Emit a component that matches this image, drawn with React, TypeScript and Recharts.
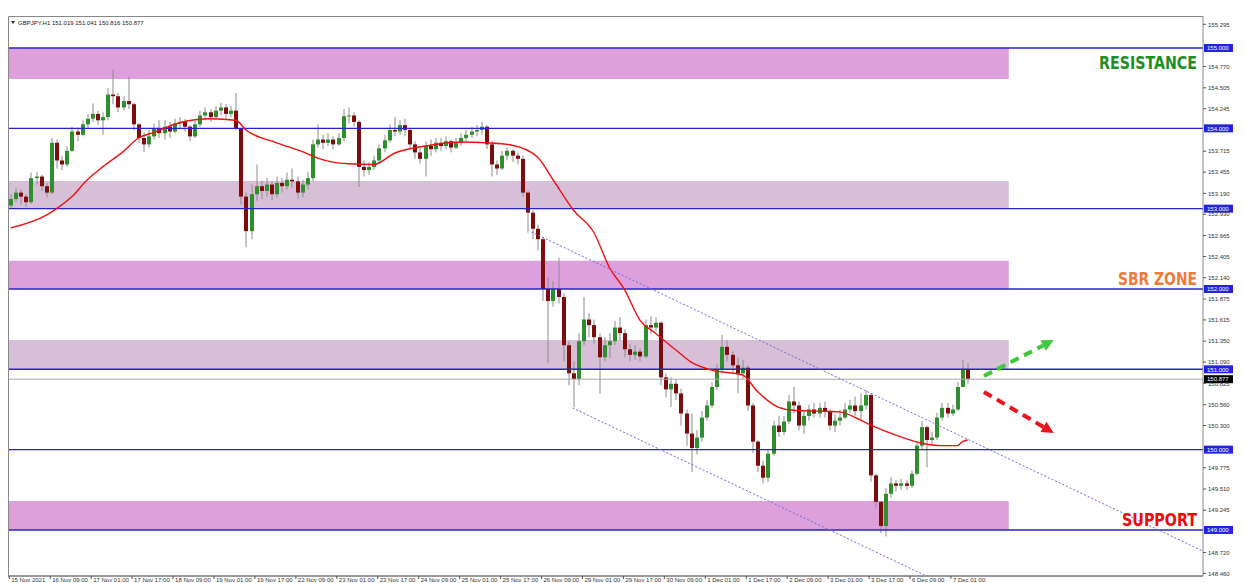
import { Bar, ComposedChart, Line, ReferenceArea, ReferenceLine, XAxis, YAxis } from "recharts";

// GBPJPY H1, drawn as 2-hour candles; open = previous close
const firstOpen = 153.04;
const closes = [
  153.12, 153.2, 153.15, 153.08, 153.38, 153.4, 153.28, 153.2, 153.82, 153.6,
  153.55, 153.72, 153.96, 153.92, 154.05, 154.12, 154.18, 154.1, 154.14, 154.42,
  154.4, 154.26, 154.34, 154.3, 154.05, 153.88, 153.8, 153.9, 154.0, 153.94,
  154.02, 153.96, 154.06, 154.08, 154.02, 153.9, 154.05, 154.16, 154.2, 154.14,
  154.22, 154.26, 154.18, 154.22, 154.0, 153.15, 152.72, 153.18, 153.28, 153.22,
  153.3, 153.18, 153.32, 153.28, 153.36, 153.34, 153.2, 153.3, 153.38, 153.8,
  153.86, 153.82, 153.86, 153.8, 153.88, 154.15, 154.16, 154.08, 153.52, 153.48,
  153.52, 153.6, 153.75, 153.85, 153.98, 153.96, 154.04, 153.98, 153.8, 153.7,
  153.62, 153.78, 153.74, 153.82, 153.78, 153.84, 153.76, 153.82, 153.88, 153.92,
  153.96, 153.98, 154.02, 153.8, 153.55, 153.5, 153.66, 153.72, 153.66, 153.62,
  153.2, 152.95, 152.75, 152.62, 152.0, 151.85, 152.0, 151.9, 151.3, 150.95,
  150.88, 151.35, 151.62, 151.55, 151.4, 151.15, 151.3, 151.35, 151.52, 151.45,
  151.25, 151.18, 151.22, 151.16, 151.55, 151.52, 151.58, 150.9, 150.75, 150.82,
  150.7, 150.45, 150.2, 150.02, 150.15, 150.4, 150.55, 150.78, 151.0, 151.28,
  151.18, 151.05, 150.95, 151.02, 150.55, 150.1, 149.8, 149.65, 149.95, 150.3,
  150.22, 150.35, 150.6, 150.55, 150.3, 150.42, 150.5, 150.45, 150.52, 150.48,
  150.3, 150.36, 150.4, 150.5, 150.55, 150.48, 150.55, 150.68, 149.68, 149.35,
  149.05, 149.45, 149.58, 149.55, 149.58, 149.55, 149.7, 150.05, 150.28, 150.12,
  150.15, 150.4, 150.52, 150.45, 150.5, 150.78, 151.0, 150.88,
];
const highs = [
  153.18, 153.26, 153.24, 153.18, 153.45, 153.46, 153.42, 153.32, 153.88, 153.86,
  153.66, 153.78, 154.02, 154.01, 154.1, 154.18, 154.31, 154.22, 154.2, 154.5,
  154.73, 154.44, 154.4, 154.64, 154.32, 154.06, 153.95, 153.98, 154.06, 154.1,
  154.1, 154.08, 154.12, 154.14, 154.12, 154.04, 154.1, 154.22, 154.26, 154.24,
  154.28, 154.32, 154.3, 154.28, 154.44, 154.0, 153.2, 153.3, 153.55, 153.35,
  153.38, 153.34, 153.4, 153.38, 153.45, 153.5, 153.4, 153.36, 153.46, 153.86,
  154.05, 153.92, 153.94, 153.9, 153.94, 154.24, 154.26, 154.2, 154.1, 153.6,
  153.58, 153.66, 153.8, 153.92, 154.05, 154.14, 154.1, 154.12, 154.0, 153.84,
  153.78, 153.84, 153.86, 153.88, 153.88, 153.9, 153.86, 153.88, 153.94, 153.98,
  154.02, 154.04, 154.08, 154.04, 153.84, 153.6, 153.72, 153.76, 153.74, 153.7,
  153.66, 153.22, 152.98, 152.8, 152.65, 152.15, 152.1, 152.39, 151.95, 151.35,
  151.1, 151.45, 151.9, 151.7, 151.62, 151.45, 151.4, 151.45, 151.6, 151.65,
  151.5, 151.32, 151.3, 151.26, 151.62, 151.66, 151.65, 151.6, 150.95, 150.9,
  150.88, 150.76, 150.5, 150.45, 150.24, 150.48, 150.62, 150.84, 151.06, 151.43,
  151.36, 151.22, 151.15, 151.12, 151.05, 150.58, 150.12, 149.86, 150.0, 150.36,
  150.42, 150.42, 150.68, 150.78, 150.6, 150.5, 150.56, 150.58, 150.58, 150.6,
  150.5, 150.44, 150.5, 150.58, 150.62, 150.66, 150.7, 150.74, 150.7, 149.7,
  149.36, 149.52, 149.66, 149.62, 149.64, 149.62, 149.74, 150.1, 150.36, 150.3,
  150.22, 150.46, 150.58, 150.58, 150.56, 150.84, 151.12, 151.08,
];
const lows = [
  153.0, 153.08, 153.05, 153.02, 153.06, 153.3, 153.22, 153.14, 153.18, 153.5,
  153.48, 153.52, 153.7, 153.84, 153.9, 154.0, 154.08, 154.04, 153.92, 154.1,
  154.3, 154.2, 154.22, 154.24, 153.98, 153.82, 153.7, 153.76, 153.86, 153.88,
  153.86, 153.88, 153.94, 154.0, 153.96, 153.84, 153.88, 154.02, 154.1, 154.08,
  154.12, 154.16, 154.12, 154.14, 153.98, 153.05, 152.52, 152.62, 153.1, 153.12,
  153.15, 153.1, 153.14, 153.2, 153.24, 153.26, 153.12, 153.14, 153.24, 153.34,
  153.76, 153.74, 153.78, 153.74, 153.78, 153.84, 154.06, 154.02, 153.27, 153.4,
  153.42, 153.48, 153.56, 153.7, 153.82, 153.9, 153.92, 153.9, 153.74, 153.62,
  153.56, 153.4, 153.66, 153.7, 153.72, 153.74, 153.7, 153.74, 153.78, 153.84,
  153.88, 153.9, 153.92, 153.74, 153.4, 153.42, 153.48, 153.6, 153.58, 153.55,
  153.15, 152.7, 152.62, 152.48, 151.85, 151.08, 151.78, 151.82, 151.1, 150.8,
  150.53, 150.8, 151.3, 151.4, 151.32, 150.7, 151.1, 151.14, 151.3, 151.36,
  151.15, 151.1, 151.12, 151.1, 151.14, 151.44, 151.48, 150.8, 150.65, 150.53,
  150.62, 150.3, 150.05, 149.72, 149.94, 150.1, 150.36, 150.52, 150.74, 150.98,
  151.1, 150.96, 150.7, 150.88, 150.48, 149.96, 149.72, 149.58, 149.6, 149.92,
  150.16, 150.18, 150.32, 150.45, 150.24, 150.2, 150.36, 150.4, 150.4, 150.4,
  150.24, 150.22, 150.3, 150.38, 150.46, 150.42, 150.36, 150.5, 149.6, 149.28,
  148.96, 148.92, 149.4, 149.48, 149.5, 149.5, 149.52, 149.68, 150.0, 149.78,
  150.05, 150.12, 150.36, 150.4, 150.42, 150.48, 150.78, 150.82,
];

// moving average read at a few candles, the line joins them
const maIndex = [0, 7, 9, 12, 15, 18, 22, 25, 28, 33, 39, 44, 46, 52, 57, 60, 63, 66, 71, 75, 82, 88, 93, 98, 103, 106, 110, 114, 117, 120, 123, 126, 130, 133, 137, 143, 146, 150, 153, 158, 162, 166, 169, 173, 178, 182, 185, 186, 187];
const maValues = [152.76, 152.92, 153.0, 153.15, 153.36, 153.52, 153.71, 153.88, 153.95, 154.07, 154.12, 154.1, 153.98, 153.82, 153.71, 153.63, 153.58, 153.56, 153.55, 153.69, 153.79, 153.83, 153.82, 153.79, 153.64, 153.36, 152.98, 152.7, 152.27, 151.99, 151.61, 151.45, 151.24, 151.09, 150.99, 150.93, 150.72, 150.53, 150.49, 150.48, 150.47, 150.37, 150.28, 150.18, 150.08, 150.05, 150.05, 150.1, 150.12];

const timeLabels = [
  "15 Nov 2021", "16 Nov 09:00", "17 Nov 01:00", "17 Nov 17:00", "18 Nov 09:00", "19 Nov 01:00",
  "19 Nov 17:00", "22 Nov 09:00", "23 Nov 01:00", "23 Nov 17:00", "24 Nov 09:00", "25 Nov 01:00",
  "25 Nov 17:00", "26 Nov 09:00", "29 Nov 01:00", "29 Nov 17:00", "30 Nov 09:00", "1 Dec 01:00",
  "1 Dec 17:00", "2 Dec 09:00", "3 Dec 01:00", "3 Dec 17:00", "6 Dec 09:00", "7 Dec 01:00",
];
const priceTicks = [
  155.295, 154.77, 154.505, 154.245, 153.715, 153.455, 153.19, 152.93, 152.665, 152.405, 152.14,
  151.875, 151.615, 151.35, 151.09, 150.825, 150.56, 150.3, 149.775, 149.51, 149.245, 148.72, 148.46,
];
const levels = [155, 154, 153, 152, 151, 150, 149];
const lastPrice = 150.877;
const zoneHigh = [155, 153.344, 152.35, 151.365, 149.36];
const zoneLow = [154.614, 153.0, 152.0, 151.0, 149.0];
const zoneEnd = 390.6;
const channelUpper = [[204, 152.71], [466.3, 148.74]];
const channelLower = [[220.1, 150.52], [358.2, 148.43]];
const arrowUp = [[380.9, 150.917], [408.2, 151.365]];
const arrowDown = [[380.9, 150.718], [408.2, 150.207]];
const header = "GBPJPY,H1  151.019 151.041 150.816 150.877";

const rows = closes.map((c, k) => ({
  h: 2 * k + 0.5,
  open: k ? closes[k - 1] : firstOpen,
  close: c,
  high: highs[k],
  low: lows[k],
  range: [lows[k], highs[k]],
  ma: null as number | null,
}));
maIndex.forEach((k, i) => {
  rows[k].ma = maValues[i];
});

const fmt = (v: number) => v.toFixed(3);

function Candle(props: any) {
  const { x, y, width, height, payload } = props;
  const { open, close, high, low } = payload;
  const top = Math.min(y, y + height);
  const span = Math.abs(height);
  const py = (v: number) => (high === low ? top : top + ((high - v) / (high - low)) * span);
  const left = Math.round(x + width / 2) - 2;
  const b1 = py(Math.max(open, close));
  const b2 = py(Math.min(open, close));
  const up = close >= open;
  return (
    <g>
      <line x1={left + 2} x2={left + 2} y1={top} y2={top + span} stroke="#8c8c8c" strokeWidth={1} />
      <rect x={left} y={b1} width={4} height={Math.max(1, b2 - b1)} fill={up ? "#2f8f2f" : "#7d0d0d"} />
    </g>
  );
}

function PriceTick(props: any) {
  const { payload } = props;
  const y = payload.coordinate;
  return (
    <g>
      <line x1={1203} x2={1206} y1={y} y2={y} stroke="#555" />
      <text x={1208} y={y + 2.2} fontSize={6} fontFamily="Liberation Sans" fill="#333">
        {fmt(payload.value)}
      </text>
    </g>
  );
}

function TimeTick(props: any) {
  const { payload } = props;
  const x = payload.coordinate;
  const label = timeLabels[Math.round(payload.value / 16)];
  return (
    <g>
      <line x1={x} x2={x} y1={576} y2={579} stroke="#555" />
      <text x={x + 2} y={582} fontSize={6} fontFamily="Liberation Sans" fill="#333">
        {label}
      </text>
    </g>
  );
}

function levelLabel(bg: string, value: number) {
  return (p: any) => {
    const y = p.viewBox.y;
    return (
      <g>
        <rect x={1204} y={y - 4} width={29} height={8} fill={bg} />
        <text x={1207} y={y + 2.2} fontSize={6} fontFamily="Liberation Sans" fill="#fff">
          {fmt(value)}
        </text>
      </g>
    );
  };
}

function arrowShape(color: string) {
  return (p: any) => {
    const { x1, y1, x2, y2 } = p;
    const a = Math.atan2(y2 - y1, x2 - x1);
    const hl = 12;
    const hw = 6;
    const bx = x2 - hl * Math.cos(a);
    const by = y2 - hl * Math.sin(a);
    const pts = `${x2},${y2} ${bx + hw * Math.sin(a)},${by - hw * Math.cos(a)} ${bx - hw * Math.sin(a)},${by + hw * Math.cos(a)}`;
    return (
      <g>
        <line x1={x1} y1={y1} x2={bx} y2={by} stroke={color} strokeWidth={4} strokeDasharray="9 6" />
        <polygon points={pts} fill={color} />
      </g>
    );
  };
}

const seg = (s: number[][]) => s.map(([x, y]) => ({ x, y }));

export default function App() {
  return (
    <div style={{ position: "absolute", left: 0, top: 0, width: 1244, height: 583, background: "#fff" }}>
      <ComposedChart width={1244} height={583} data={rows} margin={{ top: 17, right: 0, bottom: 0, left: 8 }}>
        <XAxis
          dataKey="h"
          type="number"
          domain={[-0.5, 466.5]}
          allowDataOverflow
          ticks={timeLabels.map((_, i) => i * 16)}
          interval={0}
          height={7}
          tickLine={false}
          axisLine={{ stroke: "#999", strokeWidth: 2 }}
          tick={<TimeTick />}
        />
        <YAxis
          orientation="right"
          type="number"
          domain={[148.427, 155.386]}
          allowDataOverflow
          ticks={priceTicks}
          interval={0}
          width={41}
          tickLine={false}
          axisLine={{ stroke: "#888" }}
          tick={<PriceTick />}
        />
        {zoneHigh.map((hi, i) => (
          <ReferenceArea
            key={"z" + i}
            x1={-0.5}
            x2={zoneEnd}
            y1={zoneLow[i]}
            y2={hi}
            fill={i % 2 === 0 ? "#dda0dd" : "#d8bfd8"}
            fillOpacity={1}
            stroke="none"
          />
        ))}
        <ReferenceLine y={lastPrice} stroke="#a8a8a8" strokeWidth={1} label={levelLabel("#000", lastPrice)} />
        {levels.map((v) => (
          <ReferenceLine key={"l" + v} y={v} stroke="#2424cc" strokeWidth={1.4} label={levelLabel("#2424dd", v)} />
        ))}
        <Bar dataKey="range" barSize={4} shape={<Candle />} isAnimationActive={false} />
        <Line
          dataKey="ma"
          type="monotone"
          stroke="#ee1111"
          strokeWidth={1.4}
          dot={false}
          connectNulls
          isAnimationActive={false}
        />
        <ReferenceLine segment={seg(channelUpper)} stroke="#6a6ad8" strokeDasharray="2 2" ifOverflow="visible" />
        <ReferenceLine segment={seg(channelLower)} stroke="#6a6ad8" strokeDasharray="2 2" ifOverflow="visible" />
        <ReferenceLine segment={seg(arrowUp)} ifOverflow="visible" shape={arrowShape("#3fc83f")} />
        <ReferenceLine segment={seg(arrowDown)} ifOverflow="visible" shape={arrowShape("#e8141e")} />
      </ComposedChart>
      <svg width={1244} height={583} style={{ position: "absolute", left: 0, top: 0, pointerEvents: "none" }}>
        <line x1={8.5} x2={8.5} y1={16.5} y2={576} stroke="#888" />
        <line x1={8.5} x2={1203.5} y1={16.5} y2={16.5} stroke="#888" />
        <polygon points="11,21 15,21 13,24" fill="#222" />
        <text x={18} y={24.5} fontSize={6} fontFamily="Liberation Sans" fill="#222">
          {header}
        </text>
        <text x={1099} y={69} fontSize={17} fontWeight="bold" fontFamily="DejaVu Sans Condensed" fill="#1e8f1e" textLength={98} lengthAdjust="spacingAndGlyphs">
          RESISTANCE
        </text>
        <text x={1118} y={285} fontSize={17} fontWeight="bold" fontFamily="DejaVu Sans Condensed" fill="#f07a3a" textLength={79} lengthAdjust="spacingAndGlyphs">
          SBR ZONE
        </text>
        <text x={1122} y={526} fontSize={17} fontWeight="bold" fontFamily="DejaVu Sans Condensed" fill="#ee0a0a" textLength={75} lengthAdjust="spacingAndGlyphs">
          SUPPORT
        </text>
      </svg>
    </div>
  );
}
